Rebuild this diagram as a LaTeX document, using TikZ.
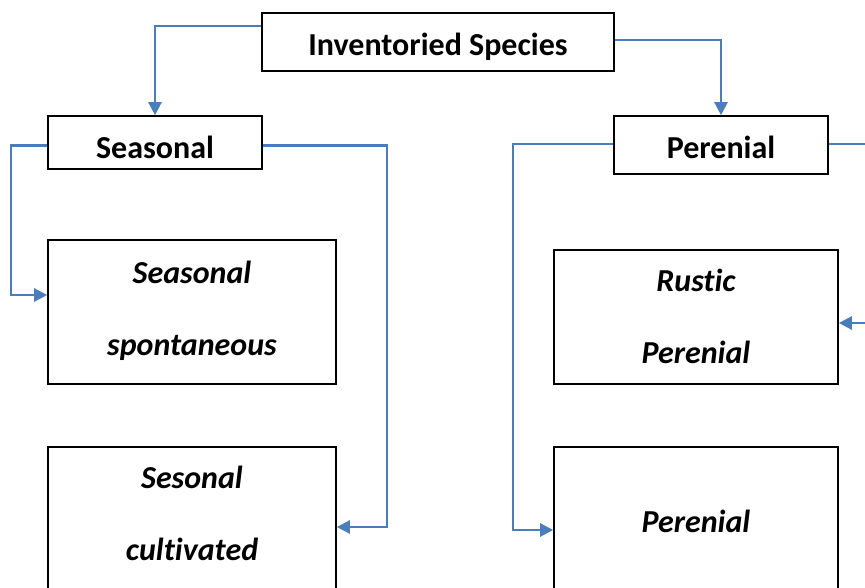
\documentclass[tikz,border=0pt]{standalone}
\usepackage{fontspec}
\setmainfont{Carlito}[Ligatures=NoCommon]
\usetikzlibrary{arrows.meta}

\definecolor{linkBlue}{RGB}{74,126,187}

\begin{document}
\begin{tikzpicture}[x=1pt,y=-1pt]
  \tikzstyle{boxStyle}=[draw=black,line width=1.6pt,inner sep=0pt,align=center,text height=27pt,text depth=0pt,font=\fontsize{32}{72}\selectfont\bfseries]
  \tikzstyle{leafStyle}=[draw=black,line width=1.6pt,inner sep=0pt,align=center,text depth=1pt,font=\fontsize{32}{72}\selectfont\bfseries\itshape]
  \tikzstyle{link}=[draw=linkBlue,line width=2.4pt,-{Triangle[length=13pt,width=13pt]}]

  \useasboundingbox (0,0) rectangle (865,588);
  \clip (0,0) rectangle (865,588);

  % top level
  \node[boxStyle,minimum width=352,minimum height=58](species) at (438,42) {Inventoried Species};

  % second level
  \node[boxStyle,text height=32pt,minimum width=214,minimum height=53](seasonal) at (155,142.5) {Seasonal};
  \node[boxStyle,minimum width=214,minimum height=58](perenial) at (721,145) {Perenial};

  % leaves
  \node[leafStyle,text depth=8pt,minimum width=288,minimum height=144](spontaneous) at (192,312) {Seasonal\\spontaneous};
  \node[leafStyle,text depth=18pt,minimum width=288,minimum height=150](cultivated) at (192,522) {Sesonal\\cultivated};
  \node[leafStyle,minimum width=284,minimum height=134](rustic) at (696,317) {Rustic\\Perenial};
  \node[leafStyle,minimum width=284,minimum height=150](perenialB) at (696,522) {Perenial};

  % connectors
  \draw[link] ([yshift=16pt]species.west) -| (seasonal.north);
  \draw[link] ([yshift=2pt]species.east) -| (perenial.north);
  \draw[link] ([yshift=-3pt]seasonal.west) -- ++(-36,0) |- ([yshift=17pt]spontaneous.west);
  \draw[link] ([yshift=-3pt]seasonal.east) -- ++(124,0) |- ([yshift=-5pt]cultivated.east);
  \draw[link] ([yshift=1pt]perenial.west) -- ++(-100,0) |- ([yshift=-8pt]perenialB.west);
  \draw[link] ([yshift=1pt]perenial.east) -- ++(72,0) |- ([yshift=-6pt]rustic.east);
\end{tikzpicture}
\end{document}
